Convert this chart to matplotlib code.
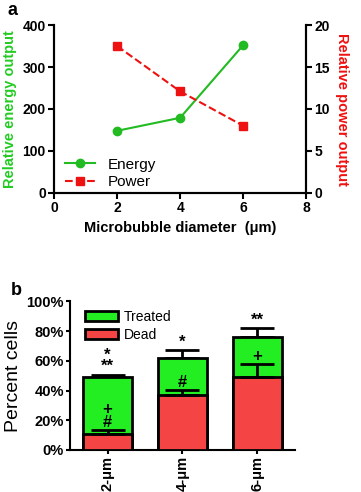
import matplotlib
matplotlib.use("Agg")
import matplotlib.pyplot as plt
import numpy as np

plt.rcParams['font.family'] = ['Liberation Sans', 'DejaVu Sans']

# ---- panel a data ----
diam = [2, 4, 6]
energy = [148, 179, 352]
power = [17.5, 12.1, 8.0]

# ---- panel b data ----
sizes = ["2-\u03bcm", "4-\u03bcm", "6-\u03bcm"]
dead = [10.5, 37, 49]
dead_err = [3, 3.5, 9]
treated_total = [49.3, 62, 76]
total_err = [1.2, 5, 6]
dead_marks = ["+\n#", "#", "+"]
total_marks = ["*\n**", "*", "**"]

GREEN = "#22bb22"
RED = "#ee1111"

fig = plt.figure(figsize=(3.61, 4.92), dpi=100)

# ---------------- panel a ----------------
ax = fig.add_axes([0.150, 0.608, 0.698, 0.341])
ax2 = ax.twinx()
l1, = ax.plot(diam, energy, "-o", color=GREEN, lw=1.5, ms=6, label="Energy")
l2, = ax2.plot(diam, power, "--s", color=RED, lw=1.5, ms=6, label="Power")
ax.set_xlim(0, 8); ax.set_xticks([0, 2, 4, 6, 8])
ax.set_ylim(0, 400); ax.set_yticks([0, 100, 200, 300, 400])
ax2.set_ylim(0, 20); ax2.set_yticks([0, 5, 10, 15, 20])
for a in (ax, ax2):
    a.spines["top"].set_visible(False)
    for s in a.spines.values():
        s.set_linewidth(1.5)
    a.tick_params(width=1.5, length=4, labelsize=10, pad=2)
    for t in a.get_xticklabels() + a.get_yticklabels():
        t.set_fontweight("bold")
ax.set_xlabel("Microbubble diameter  (\u03bcm)", fontsize=10.5, fontweight="bold", labelpad=4)
ax.set_ylabel("Relative energy output", fontsize=10.5, fontweight="bold", color="#22cc22", labelpad=4)
ax2.set_ylabel("Relative power output", fontsize=10.5, fontweight="bold", color=RED,
               rotation=270, labelpad=14)
ax.legend(handles=[l1, l2], loc="lower left", bbox_to_anchor=(0.0, -0.04), frameon=False,
          fontsize=11, handlelength=2.0, borderaxespad=0.3, labelspacing=0.2)
fig.text(0.02, 0.995, "a", fontsize=13, fontweight="bold", va="top")

# ---------------- panel b ----------------
bx = fig.add_axes([0.194, 0.0854, 0.623, 0.302])
x = np.arange(len(sizes))
w = 0.66
bx.bar(x, treated_total, w, color="#22ee22", edgecolor="black", lw=2, label="Treated", zorder=2)
bx.bar(x, dead, w, color="#f44444", edgecolor="black", lw=2, label="Dead", zorder=3)
bx.errorbar(x, treated_total, yerr=[np.zeros(3), total_err], fmt="none", ecolor="black",
            elinewidth=2, capsize=12, capthick=2, zorder=1)
bx.errorbar(x, dead, yerr=[np.zeros(3), dead_err], fmt="none", ecolor="black",
            elinewidth=2, capsize=12, capthick=2, zorder=4)
for xi, d, de, m in zip(x, dead, dead_err, dead_marks):
    bx.text(xi, d + de, m, ha="center", va="bottom", fontsize=12, linespacing=0.85,
            fontweight="bold", zorder=5)
for xi, t, te, m in zip(x, treated_total, total_err, total_marks):
    bx.text(xi, t + te + 0.5, m, ha="center", va="bottom", fontsize=12, linespacing=0.7,
            fontweight="bold", zorder=5)
bx.set_xlim(-0.5, 2.5)
bx.set_ylim(0, 100)
bx.set_yticks([0, 20, 40, 60, 80, 100])
bx.set_yticklabels([f"{v}%" for v in [0, 20, 40, 60, 80, 100]])
bx.set_xticks(x)
bx.set_xticklabels(sizes, rotation=90)
bx.spines["top"].set_visible(False)
bx.spines["right"].set_visible(False)
for s in bx.spines.values():
    s.set_linewidth(1.5)
bx.tick_params(width=1.5, length=3, labelsize=10.5, pad=1.5)
for t in bx.get_xticklabels() + bx.get_yticklabels():
    t.set_fontweight("bold")
bx.set_ylabel("Percent cells", fontsize=14, labelpad=3)
bx.legend(loc="upper left", bbox_to_anchor=(0.03, 1.0), frameon=False,
          fontsize=10, handlelength=2.4, handleheight=0.7, labelspacing=0.3, borderaxespad=0.2,
          handletextpad=0.4)
fig.text(0.03, 0.392, "b", fontsize=13, fontweight="bold", va="bottom")

fig.savefig("out.png", dpi=100)
